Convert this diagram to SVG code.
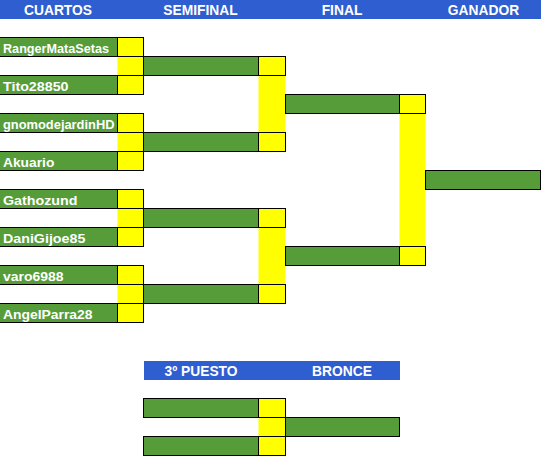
<svg xmlns="http://www.w3.org/2000/svg" width="545" height="464" viewBox="0 0 545 464">
<style>
.g{fill:#569d3a;stroke:#000;stroke-width:1}
.y{fill:#ffff00;stroke:#000;stroke-width:1}
.yc{fill:#ffff00;stroke:none}
.bar{fill:#2e5ed0}
.h{font-family:"Liberation Sans",Arial,sans-serif;font-weight:bold;font-size:13.8px;fill:#fff;text-anchor:middle}
.n{font-family:"Liberation Sans",Arial,sans-serif;font-weight:bold;font-size:13.5px;fill:#fff}
</style>
<rect width="545" height="464" fill="#fff"/>
<g id="header">
<rect class="bar" x="0" y="0" width="541" height="19"/>
<text class="h" x="58" y="15">CUARTOS</text>
<text class="h" x="200.5" y="15">SEMIFINAL</text>
<text class="h" x="342" y="15">FINAL</text>
<text class="h" x="483.5" y="15">GANADOR</text>
</g>
<g id="header-bronze">
<rect class="bar" x="144" y="361" width="256" height="19"/>
<text class="h" x="201" y="375.5">3º PUESTO</text>
<text class="h" x="342" y="375.5">BRONCE</text>
</g>
<g id="connectors">
<rect class="yc" x="117.5" y="56.5" width="26" height="19"/>
<rect class="yc" x="117.5" y="132.5" width="26" height="19"/>
<rect class="yc" x="117.5" y="208.5" width="26" height="19"/>
<rect class="yc" x="117.5" y="284.5" width="26" height="19"/>
<rect class="yc" x="258.5" y="75.5" width="27" height="57"/>
<rect class="yc" x="258.5" y="227.5" width="27" height="57"/>
<rect class="yc" x="399.5" y="113.5" width="26" height="133"/>
<rect class="yc" x="258.5" y="417.5" width="27" height="19"/>
</g>
<g id="q1"><rect class="g" x="-1" y="37.5" width="118.5" height="19"/><rect class="y" x="117.5" y="37.5" width="26" height="19"/><text class="n" x="3" y="52.5" textLength="106" lengthAdjust="spacingAndGlyphs">RangerMataSetas</text></g>
<g id="q2"><rect class="g" x="-1" y="75.5" width="118.5" height="19"/><rect class="y" x="117.5" y="75.5" width="26" height="19"/><text class="n" x="3" y="90.5" textLength="65.5" lengthAdjust="spacingAndGlyphs">Tito28850</text></g>
<g id="q3"><rect class="g" x="-1" y="113.5" width="118.5" height="19"/><rect class="y" x="117.5" y="113.5" width="26" height="19"/><text class="n" x="3" y="128.5" textLength="111.5" lengthAdjust="spacingAndGlyphs">gnomodejardinHD</text></g>
<g id="q4"><rect class="g" x="-1" y="151.5" width="118.5" height="19"/><rect class="y" x="117.5" y="151.5" width="26" height="19"/><text class="n" x="3" y="166.5" textLength="51.3" lengthAdjust="spacingAndGlyphs">Akuario</text></g>
<g id="q5"><rect class="g" x="-1" y="189.5" width="118.5" height="19"/><rect class="y" x="117.5" y="189.5" width="26" height="19"/><text class="n" x="3" y="204.5" textLength="74.5" lengthAdjust="spacingAndGlyphs">Gathozund</text></g>
<g id="q6"><rect class="g" x="-1" y="227.5" width="118.5" height="19"/><rect class="y" x="117.5" y="227.5" width="26" height="19"/><text class="n" x="3" y="242.5" textLength="82.3" lengthAdjust="spacingAndGlyphs">DaniGijoe85</text></g>
<g id="q7"><rect class="g" x="-1" y="265.5" width="118.5" height="19"/><rect class="y" x="117.5" y="265.5" width="26" height="19"/><text class="n" x="3" y="280.5" textLength="60.5" lengthAdjust="spacingAndGlyphs">varo6988</text></g>
<g id="q8"><rect class="g" x="-1" y="303.5" width="118.5" height="19"/><rect class="y" x="117.5" y="303.5" width="26" height="19"/><text class="n" x="3" y="318.5" textLength="89.5" lengthAdjust="spacingAndGlyphs">AngelParra28</text></g>
<g id="s1"><rect class="g" x="143.5" y="56.5" width="115" height="19"/><rect class="y" x="258.5" y="56.5" width="27" height="19"/></g>
<g id="s2"><rect class="g" x="143.5" y="132.5" width="115" height="19"/><rect class="y" x="258.5" y="132.5" width="27" height="19"/></g>
<g id="s3"><rect class="g" x="143.5" y="208.5" width="115" height="19"/><rect class="y" x="258.5" y="208.5" width="27" height="19"/></g>
<g id="s4"><rect class="g" x="143.5" y="284.5" width="115" height="19"/><rect class="y" x="258.5" y="284.5" width="27" height="19"/></g>
<g id="f1"><rect class="g" x="285.5" y="94.5" width="114" height="19"/><rect class="y" x="399.5" y="94.5" width="26" height="19"/></g>
<g id="f2"><rect class="g" x="285.5" y="246.5" width="114" height="19"/><rect class="y" x="399.5" y="246.5" width="26" height="19"/></g>
<g id="winner"><rect class="g" x="425.5" y="170.5" width="115" height="19"/></g>
<g id="b1"><rect class="g" x="143.5" y="398.5" width="115" height="19"/><rect class="y" x="258.5" y="398.5" width="27" height="19"/></g>
<g id="b2"><rect class="g" x="143.5" y="436.5" width="115" height="19"/><rect class="y" x="258.5" y="436.5" width="27" height="19"/></g>
<g id="bronze"><rect class="g" x="285.5" y="417.5" width="114" height="19"/></g>
</svg>
